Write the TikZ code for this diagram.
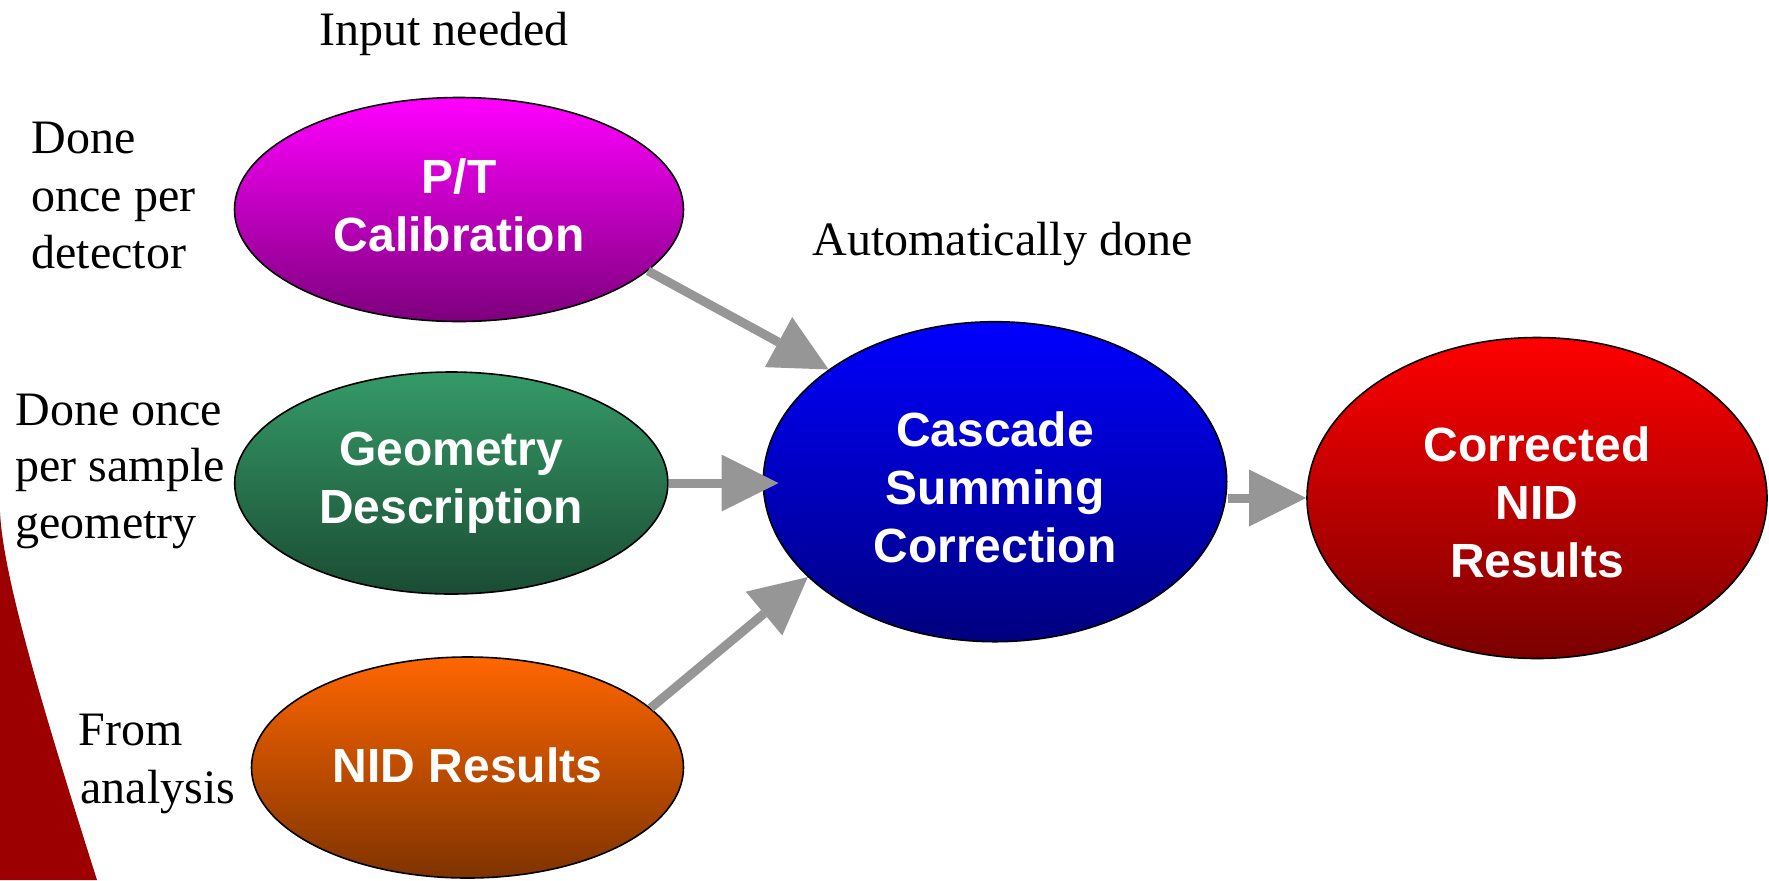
\documentclass[tikz,border=0pt]{standalone}
\usepackage{fontspec}
\setmainfont{Liberation Serif}
\setsansfont{Liberation Sans}
\usetikzlibrary{arrows.meta,shapes.geometric,calc}
\definecolor{ptTop}{HTML}{FF00FF}
\definecolor{ptBot}{HTML}{7D007D}
\definecolor{geoTop}{HTML}{359A68}
\definecolor{geoBot}{HTML}{1A4C33}
\definecolor{nidTop}{HTML}{FF6600}
\definecolor{nidBot}{HTML}{7F3300}
\definecolor{cascTop}{HTML}{0000FF}
\definecolor{cascBot}{HTML}{00007F}
\definecolor{corrTop}{HTML}{FF0000}
\definecolor{corrBot}{HTML}{7A0000}
\definecolor{arrowgray}{HTML}{969696}
\definecolor{wedgered}{HTML}{9C0000}
% text block moved up/down inside its ellipse, keeping its size
\newcommand\blobtext[2]{\raisebox{#1}[\height][\depth]{\begin{tabular}{@{}c@{}}#2\end{tabular}}}
\tikzset{
  blob/.style={ellipse, draw=black, line width=0.8pt, inner sep=0pt,
    text=white, font=\sffamily\bfseries\fontsize{24pt}{29pt}\selectfont},
  lbl/.style={anchor=base west, inner sep=0pt, font=\fontsize{24pt}{28.75pt}\selectfont},
  arr/.style={draw=arrowgray, line width=4.5pt,
    -{Triangle[length=28.5pt,width=28.5pt,line width=0pt]}},
}
\begin{document}
\begin{tikzpicture}[x=0.5pt,y=-0.5pt]
\useasboundingbox (0,0) rectangle (1769,880);
% red wedge at the lower left
\fill[wedgered] (0,512) .. controls (3,575) and (40,700) .. (97,880) -- (0,880) -- cycle;
% ellipses
\node[blob, minimum width=224.5pt, minimum height=112pt, top color=ptTop, bottom color=ptBot]
  (pt) at (459,209.5) {\blobtext{-0.6pt}{P/T\\Calibration}};
\node[blob, minimum width=216.6pt, minimum height=111pt, top color=geoTop, bottom color=geoBot]
  (geo) at (451.3,483) {\blobtext{0.2pt}{Geometry\\Description}};
\node[blob, minimum width=216pt, minimum height=110.5pt, top color=nidTop, bottom color=nidBot]
  (nid) at (467.5,767.5) {\blobtext{-1.8pt}{NID Results}};
\node[blob, minimum width=231.7pt, minimum height=160pt, top color=cascTop, bottom color=cascBot]
  (casc) at (995,481.7) {\blobtext{-5.8pt}{Cascade\\Summing\\Correction}};
\node[blob, minimum width=230pt, minimum height=160.5pt, top color=corrTop, bottom color=corrBot]
  (corr) at (1537,498) {\blobtext{-5pt}{Corrected\\NID\\Results}};
% labels
\node[lbl] (l1a) at (31,153.5) {Done};
\node[lbl] (l1b) at (31,211) {once per};
\node[lbl] (l1c) at (31,268.5) {detector};
\node[lbl] (l2a) at (15,425) {Done once};
\node[lbl] (l2b) at (15,481.7) {per sample};
\node[lbl] (l2c) at (15,538.3) {geometry};
\node[lbl] (l3a) at (78.5,745) {From};
\node[lbl] (l3b) at (80,803.3) {analysis};
\node[lbl] (inp) at (319,45) {Input needed};
\node[lbl] (auto) at (812,255) {Automatically done};
% arrows
\draw[arr] (pt.-18.6) -- (casc.146.2);
\draw[arr] (geo.east) -- ([xshift=8pt]geo.east -| casc.west);
\draw[arr] (nid.18.8) -- (casc.207.7);
\draw[arr] (corr.west -| casc.east) -- (corr.west);
\end{tikzpicture}
\end{document}
